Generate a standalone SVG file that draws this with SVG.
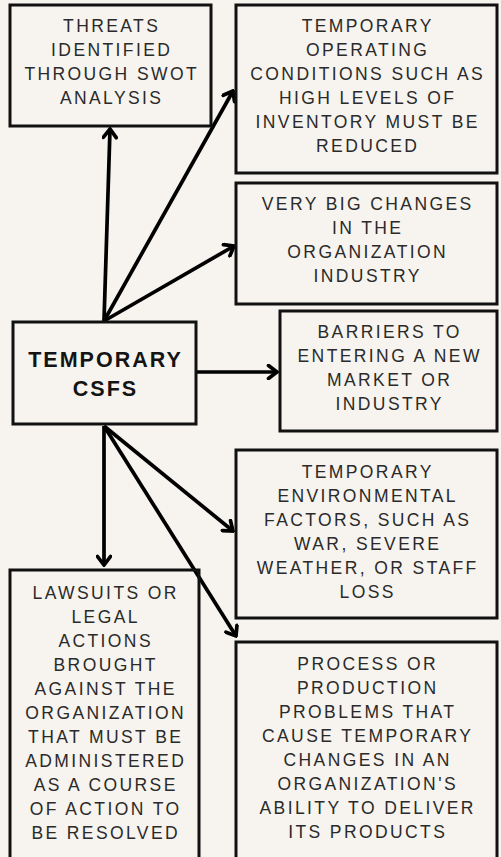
<svg xmlns="http://www.w3.org/2000/svg" width="501" height="857" viewBox="0 0 501 857">
  <defs>
    <style>
      .box { fill: none; stroke: #111; stroke-width: 3; }
      .t { font-family: "Liberation Sans", Arial, sans-serif; font-size: 17.5px; letter-spacing: 2.4px; fill: #2a2a2a; text-anchor: middle; }
      .tb { font-family: "Liberation Sans", Arial, sans-serif; font-size: 21.5px; font-weight: bold; letter-spacing: 2px; fill: #141414; text-anchor: middle; }
      .edge { stroke: #000; stroke-width: 3.7; fill: none; marker-end: url(#chev); }
    </style>
    <marker id="chev" viewBox="-11 -8 13 16" markerWidth="13" markerHeight="16" refX="0" refY="0" orient="auto" markerUnits="userSpaceOnUse">
      <path d="M-8.5,-6.5 L0,0 L-8.5,6.5" fill="none" stroke="#000" stroke-width="3.7" stroke-linecap="round" stroke-linejoin="miter"/>
    </marker>
  </defs>

  <rect width="501" height="857" fill="#f7f4ef"/>

  <!-- connectors -->
  <g id="connectors">
    <line class="edge" x1="104" y1="321" x2="110" y2="129"/>
    <line class="edge" x1="104" y1="321" x2="233" y2="91"/>
    <line class="edge" x1="104" y1="321" x2="234" y2="246"/>
    <line class="edge" x1="197" y1="372" x2="277" y2="372"/>
    <line class="edge" x1="104" y1="426" x2="104" y2="565"/>
    <line class="edge" x1="104" y1="426" x2="233" y2="531"/>
    <line class="edge" x1="104" y1="426" x2="236" y2="636"/>
  </g>

  <!-- central node -->
  <g id="temporary-csfs">
    <rect class="box" x="13" y="322" width="183" height="102"/>
    <text class="tb" x="105.5" y="367">TEMPORARY</text>
    <text class="tb" x="105.5" y="396">CSFS</text>
  </g>

  <g id="threats">
    <rect class="box" x="10" y="5" width="201" height="121"/>
    <text class="t" x="111.7" y="32">THREATS</text>
    <text class="t" x="111.7" y="56">IDENTIFIED</text>
    <text class="t" x="111.7" y="80">THROUGH SWOT</text>
    <text class="t" x="111.7" y="104">ANALYSIS</text>
  </g>

  <g id="operating-conditions">
    <rect class="box" x="236" y="5" width="261" height="168"/>
    <text class="t" x="367.7" y="32">TEMPORARY</text>
    <text class="t" x="367.7" y="56">OPERATING</text>
    <text class="t" x="367.7" y="80">CONDITIONS SUCH AS</text>
    <text class="t" x="367.7" y="104">HIGH LEVELS OF</text>
    <text class="t" x="367.7" y="128">INVENTORY MUST BE</text>
    <text class="t" x="367.7" y="152">REDUCED</text>
  </g>

  <g id="industry-changes">
    <rect class="box" x="236" y="183" width="261" height="121"/>
    <text class="t" x="367.7" y="210">VERY BIG CHANGES</text>
    <text class="t" x="367.7" y="234">IN THE</text>
    <text class="t" x="367.7" y="258">ORGANIZATION</text>
    <text class="t" x="367.7" y="282">INDUSTRY</text>
  </g>

  <g id="market-barriers">
    <rect class="box" x="280" y="311" width="217" height="120"/>
    <text class="t" x="389.7" y="338">BARRIERS TO</text>
    <text class="t" x="389.7" y="362">ENTERING A NEW</text>
    <text class="t" x="389.7" y="386">MARKET OR</text>
    <text class="t" x="389.7" y="410">INDUSTRY</text>
  </g>

  <g id="environmental-factors">
    <rect class="box" x="236" y="450" width="261" height="168"/>
    <text class="t" x="367.7" y="478">TEMPORARY</text>
    <text class="t" x="367.7" y="502">ENVIRONMENTAL</text>
    <text class="t" x="367.7" y="526">FACTORS, SUCH AS</text>
    <text class="t" x="367.7" y="550">WAR, SEVERE</text>
    <text class="t" x="367.7" y="574">WEATHER, OR STAFF</text>
    <text class="t" x="367.7" y="598">LOSS</text>
  </g>

  <g id="lawsuits">
    <rect class="box" x="10" y="570" width="189" height="300"/>
    <text class="t" x="105.7" y="599">LAWSUITS OR</text>
    <text class="t" x="105.7" y="623">LEGAL</text>
    <text class="t" x="105.7" y="647">ACTIONS</text>
    <text class="t" x="105.7" y="671">BROUGHT</text>
    <text class="t" x="105.7" y="695">AGAINST THE</text>
    <text class="t" x="105.7" y="719">ORGANIZATION</text>
    <text class="t" x="105.7" y="743">THAT MUST BE</text>
    <text class="t" x="105.7" y="767">ADMINISTERED</text>
    <text class="t" x="105.7" y="791">AS A COURSE</text>
    <text class="t" x="105.7" y="815">OF ACTION TO</text>
    <text class="t" x="105.7" y="839">BE RESOLVED</text>
  </g>

  <g id="process-problems">
    <rect class="box" x="236" y="642" width="261" height="228"/>
    <text class="t" x="367.7" y="670">PROCESS OR</text>
    <text class="t" x="367.7" y="694">PRODUCTION</text>
    <text class="t" x="367.7" y="718">PROBLEMS THAT</text>
    <text class="t" x="367.7" y="742">CAUSE TEMPORARY</text>
    <text class="t" x="367.7" y="766">CHANGES IN AN</text>
    <text class="t" x="367.7" y="790">ORGANIZATION'S</text>
    <text class="t" x="367.7" y="814">ABILITY TO DELIVER</text>
    <text class="t" x="367.7" y="838">ITS PRODUCTS</text>
  </g>
</svg>
